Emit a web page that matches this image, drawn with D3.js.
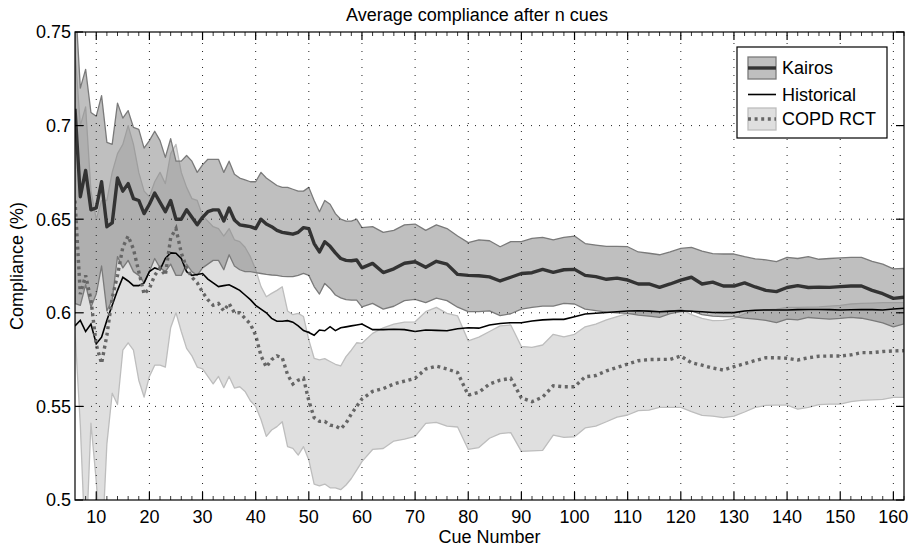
<!DOCTYPE html>
<html>
<head>
<meta charset="utf-8">
<script src="https://cdn.jsdelivr.net/npm/d3@7"></script>
<style>
  html, body { margin: 0; padding: 0; background: #fff; }
  svg { display: block; font-family: "Liberation Sans", Arial, Helvetica, sans-serif; }
</style>
</head>
<body>
<div id="chart"></div>
<script>
/* ---------- Data ---------- */
const cues = [6,7,8,9,10,11,12,13,14,15,16,17,18,19,20,21,22,23,24,25,26,27,28,29,30,31,32,33,34,35,
  36,37,38,39,40,41,42,43,44,45,46,47,48,49,50,51,52,53,54,55,56,57,58,59,60,
  62,64,66,68,70,72,74,76,78,80,82,84,86,88,90,92,94,96,98,100,
  102,104,106,108,110,112,114,116,118,120,122,124,126,128,130,132,134,136,138,140,
  142,144,146,148,150,152,154,156,158,160,162];

const kairosHigh = [0.77,0.720,0.730,0.707,0.705,0.716,0.691,0.690,0.712,0.704,
  0.708,0.699,0.698,0.688,0.692,0.697,0.692,0.683,0.693,0.681,
  0.681,0.684,0.681,0.675,0.679,0.682,0.682,0.682,0.675,0.681,
  0.674,0.672,0.671,0.670,0.670,0.675,0.672,0.670,0.668,0.667,
  0.667,0.666,0.665,0.665,0.667,0.660,0.654,0.660,0.658,0.653,
  0.650,0.649,0.649,0.650,0.6455,
  0.646,0.643,0.644,0.647,0.6474,0.644,0.647,0.645,0.641,0.6375,
  0.639,0.6385,0.6353,0.638,0.638,0.6398,0.6403,0.639,0.6403,0.641,
  0.637,0.6362,0.6355,0.6355,0.6353,0.6325,0.6318,0.631,0.6325,0.6344,
  0.635,0.633,0.6316,0.6314,0.6314,0.630,0.6288,0.6283,0.6273,0.6296,
  0.629,0.630,0.6286,0.629,0.6293,0.6296,0.6296,0.6275,0.626,0.6235,
  0.6237];

const kairosMean = [0.709,0.662,0.676,0.655,0.656,0.670,0.646,0.648,0.672,0.665,
  0.669,0.661,0.660,0.653,0.658,0.664,0.659,0.654,0.660,0.650,
  0.650,0.655,0.651,0.647,0.651,0.654,0.655,0.655,0.649,0.656,
  0.6496,0.647,0.6465,0.646,0.645,0.650,0.6474,0.646,0.644,0.643,
  0.6425,0.642,0.643,0.6455,0.645,0.637,0.6325,0.638,0.6355,0.632,
  0.629,0.628,0.6278,0.6282,0.624,
  0.6264,0.6215,0.6235,0.6265,0.6273,0.6243,0.6275,0.626,0.6205,0.620,
  0.6198,0.6192,0.617,0.619,0.621,0.6214,0.6232,0.6216,0.623,0.6232,
  0.620,0.6193,0.6179,0.6185,0.6175,0.6154,0.6154,0.6136,0.6154,0.6175,
  0.619,0.6154,0.6164,0.6143,0.6143,0.616,0.6138,0.612,0.6113,0.6135,
  0.6145,0.6135,0.6137,0.6136,0.614,0.6143,0.6143,0.612,0.6102,0.6077,
  0.6083];

const kairosLow = [0.605,0.604,0.615,0.603,0.610,0.625,0.601,0.607,0.630,0.624,
  0.628,0.622,0.620,0.616,0.622,0.629,0.624,0.622,0.626,0.620,
  0.620,0.626,0.622,0.620,0.624,0.626,0.628,0.628,0.623,0.631,
  0.625,0.623,0.622,0.622,0.6215,0.621,0.6205,0.6202,0.620,0.6195,
  0.6193,0.6193,0.620,0.621,0.620,0.614,0.610,0.6157,0.613,0.6095,
  0.608,0.607,0.6068,0.6068,0.6032,
  0.605,0.602,0.6035,0.6065,0.6072,0.6054,0.6078,0.6065,0.603,0.6006,
  0.6006,0.601,0.5985,0.5995,0.602,0.6029,0.6036,0.6036,0.605,0.6047,
  0.602,0.6012,0.6004,0.600,0.5997,0.5988,0.5982,0.5976,0.5995,0.6006,
  0.601,0.599,0.5982,0.598,0.598,0.5972,0.5966,0.596,0.5948,0.5966,
  0.5962,0.5975,0.597,0.5966,0.597,0.5976,0.5971,0.596,0.5946,0.5925,
  0.5941];

const historical = [0.593,0.596,0.590,0.594,0.5835,0.587,0.596,0.604,0.612,0.619,
  0.617,0.6145,0.6145,0.616,0.622,0.624,0.623,0.629,0.632,0.6318,
  0.629,0.622,0.620,0.6205,0.621,0.618,0.616,0.614,0.6145,0.615,
  0.6135,0.612,0.6095,0.607,0.604,0.602,0.600,0.597,0.5955,0.5955,
  0.5958,0.595,0.593,0.5905,0.5895,0.588,0.5908,0.5904,0.5926,0.5905,
  0.592,0.5925,0.593,0.5935,0.594,
  0.591,0.591,0.5912,0.591,0.590,0.5908,0.5906,0.5904,0.5915,0.592,
  0.5918,0.5935,0.5943,0.5947,0.5947,0.5956,0.5962,0.5965,0.5965,0.5979,
  0.5994,0.5998,0.6002,0.6006,0.601,0.6011,0.6009,0.6006,0.6009,0.6011,
  0.6008,0.6006,0.6002,0.6001,0.6001,0.601,0.6014,0.6015,0.6015,0.6015,
  0.6017,0.6018,0.6018,0.6017,0.6015,0.6016,0.6018,0.6017,0.6015,0.602,
  0.6024];

const copdHigh = [0.74,0.700,0.710,0.665,0.650,0.660,0.660,0.675,0.685,0.690,
  0.700,0.690,0.675,0.665,0.662,0.670,0.675,0.669,0.685,0.690,
  0.675,0.667,0.661,0.660,0.652,0.649,0.646,0.645,0.641,0.645,
  0.639,0.638,0.635,0.630,0.623,0.614,0.6086,0.6104,0.612,0.6139,
  0.601,0.599,0.5997,0.598,0.5855,0.5757,0.5748,0.5755,0.574,0.5725,
  0.5716,0.5766,0.580,0.584,0.5837,
  0.589,0.592,0.594,0.595,0.5952,0.6006,0.6029,0.5997,0.5983,0.585,
  0.587,0.590,0.593,0.5935,0.582,0.5815,0.5828,0.5885,0.5872,0.5885,
  0.5925,0.594,0.5962,0.598,0.5995,0.600,0.600,0.600,0.6005,0.602,
  0.599,0.597,0.5958,0.596,0.597,0.5995,0.601,0.6015,0.602,0.6029,
  0.6029,0.603,0.6032,0.6036,0.604,0.6047,0.605,0.6052,0.6054,0.6054,
  0.6054];

const copdMean = [0.660,0.610,0.620,0.607,0.583,0.573,0.588,0.608,0.620,0.635,
  0.641,0.634,0.622,0.610,0.613,0.620,0.624,0.620,0.640,0.645,
  0.632,0.624,0.619,0.616,0.611,0.607,0.604,0.605,0.601,0.605,
  0.600,0.600,0.597,0.594,0.588,0.577,0.571,0.575,0.577,0.576,
  0.567,0.562,0.564,0.565,0.553,0.544,0.542,0.542,0.540,0.5395,
  0.538,0.541,0.546,0.550,0.554,
  0.558,0.5595,0.562,0.5635,0.565,0.570,0.5715,0.570,0.568,0.556,
  0.5575,0.562,0.564,0.565,0.5545,0.5525,0.555,0.561,0.5605,0.5605,
  0.5658,0.5665,0.569,0.5708,0.5726,0.5744,0.575,0.5751,0.5751,0.5769,
  0.5733,0.572,0.5705,0.5694,0.5712,0.5728,0.5745,0.576,0.576,0.5757,
  0.5748,0.576,0.5768,0.5769,0.5769,0.5775,0.5787,0.5787,0.5793,0.5796,
  0.5798];

const copdLow = [0.59,0.54,0.47,0.541,0.51,0.47,0.53,0.557,0.551,0.580,
  0.584,0.580,0.564,0.555,0.566,0.572,0.572,0.571,0.592,0.600,
  0.590,0.581,0.577,0.571,0.570,0.566,0.562,0.566,0.560,0.566,
  0.5598,0.5605,0.558,0.553,0.550,0.543,0.534,0.5374,0.5392,0.5418,
  0.5285,0.5276,0.524,0.5285,0.5214,0.5085,0.5075,0.5085,0.5065,0.5065,
  0.5055,0.508,0.5115,0.516,0.5205,
  0.527,0.5275,0.5315,0.5325,0.534,0.5409,0.5415,0.5395,0.539,0.527,
  0.528,0.533,0.5355,0.536,0.526,0.5262,0.5265,0.5347,0.5335,0.5338,
  0.5385,0.5395,0.5418,0.5443,0.5454,0.5477,0.548,0.5495,0.5495,0.5495,
  0.5472,0.5452,0.5448,0.544,0.5448,0.547,0.5495,0.5505,0.5507,0.5507,
  0.5485,0.5495,0.551,0.5512,0.5512,0.5525,0.5532,0.5535,0.5537,0.5548,
  0.5548];

const xTicks = [10,20,30,40,50,60,70,80,90,100,110,120,130,140,150,160];
const xMinorTicks = [8,12,14,16,18,22,24,26,28,32,34,36,38,42,44,46,48,52,54,56,58,62,64,66,68,
  72,74,76,78,82,84,86,88,92,94,96,98,102,104,106,108,112,114,116,118,122,124,126,128,
  132,134,136,138,142,144,146,148,152,154,156,158,162];
const yTicks = [0.5,0.55,0.6,0.65,0.7,0.75];
const legendLabels = ['Kairos', 'Historical', 'COPD RCT'];

/* ---------- Layout ---------- */
const W = 915, H = 548;
const M = { left: 75, top: 32, right: 11, bottom: 48 };
const FONT = 18;

const x = d3.scaleLinear().domain([6, 162]).range([M.left, W - M.right]);
const y = d3.scaleLinear().domain([0.5, 0.75]).range([H - M.bottom, M.top]);

const svg = d3.select('#chart').append('svg')
  .attr('width', W).attr('height', H);

svg.append('defs').append('clipPath').attr('id', 'plot-clip')
  .append('rect')
  .attr('x', x.range()[0]).attr('y', y.range()[1])
  .attr('width', x.range()[1] - x.range()[0])
  .attr('height', y.range()[0] - y.range()[1]);

const rows = cues.map((c, i) => ({
  c,
  kh: kairosHigh[i], km: kairosMean[i], kl: kairosLow[i],
  h: historical[i],
  ch: copdHigh[i], cm: copdMean[i], cl: copdLow[i]
}));

const plot = svg.append('g').attr('clip-path', 'url(#plot-clip)');

// Bands
const band = (lo, hi) => d3.area().x(d => x(d.c)).y0(d => y(d[lo])).y1(d => y(d[hi]));

plot.append('path').datum(rows)
  .attr('d', band('cl', 'ch'))
  .attr('fill', '#bfbfbf').attr('fill-opacity', 0.5)
  .attr('stroke', '#bdbdbd').attr('stroke-width', 1.3).attr('stroke-linejoin', 'round');

plot.append('path').datum(rows)
  .attr('d', band('kl', 'kh'))
  .attr('fill', '#7f7f7f').attr('fill-opacity', 0.5)
  .attr('stroke', '#7a7a7a').attr('stroke-width', 1.3).attr('stroke-linejoin', 'round');

// Grid (dotted)
const grid = svg.append('g').attr('stroke', '#222').attr('stroke-width', 1)
  .attr('stroke-dasharray', '1,7').attr('fill', 'none');
grid.selectAll('line.vx').data(xTicks).join('line')
  .attr('x1', d => x(d)).attr('x2', d => x(d))
  .attr('y1', y.range()[0]).attr('y2', y.range()[1]);
grid.selectAll('line.hy').data(yTicks.slice(1, -1)).join('line')
  .attr('class', 'hy')
  .attr('y1', d => y(d)).attr('y2', d => y(d))
  .attr('x1', x.range()[0]).attr('x2', x.range()[1]);

// Lines
const line = key => d3.line().x(d => x(d.c)).y(d => y(d[key]));

plot.append('path').datum(rows)
  .attr('d', line('h'))
  .attr('fill', 'none').attr('stroke', '#000').attr('stroke-width', 1.6);

plot.append('path').datum(rows)
  .attr('d', line('cm'))
  .attr('fill', 'none').attr('stroke', '#666').attr('stroke-width', 3.4)
  .attr('stroke-dasharray', '3,3.6');

plot.append('path').datum(rows)
  .attr('d', line('km'))
  .attr('fill', 'none').attr('stroke', '#333').attr('stroke-width', 3.4)
  .attr('stroke-linejoin', 'round');

/* ---------- Axes box + ticks ---------- */
const [x0, x1] = x.range();
const [yb, yt] = y.range();
const axis = svg.append('g').attr('stroke', '#000').attr('stroke-width', 1.2);

axis.append('rect').attr('x', x0).attr('y', yt)
  .attr('width', x1 - x0).attr('height', yb - yt).attr('fill', 'none');

const tickLen = 8, minorLen = 4;
xTicks.forEach(t => {
  axis.append('line').attr('x1', x(t)).attr('x2', x(t)).attr('y1', yb).attr('y2', yb - tickLen);
  axis.append('line').attr('x1', x(t)).attr('x2', x(t)).attr('y1', yt).attr('y2', yt + tickLen);
});
xMinorTicks.forEach(t => {
  axis.append('line').attr('stroke-width', 0.8).attr('x1', x(t)).attr('x2', x(t)).attr('y1', yb).attr('y2', yb - minorLen);
  axis.append('line').attr('stroke-width', 0.8).attr('x1', x(t)).attr('x2', x(t)).attr('y1', yt).attr('y2', yt + minorLen);
});
yTicks.forEach(t => {
  axis.append('line').attr('y1', y(t)).attr('y2', y(t)).attr('x1', x0).attr('x2', x0 + tickLen);
  axis.append('line').attr('y1', y(t)).attr('y2', y(t)).attr('x1', x1).attr('x2', x1 - tickLen);
});

// Tick labels
svg.append('g').selectAll('text').data(xTicks).join('text')
  .attr('x', d => x(d)).attr('y', yb + 23)
  .attr('text-anchor', 'middle').attr('font-size', FONT).attr('fill', '#000')
  .text(d => d);

svg.append('g').selectAll('text').data(yTicks).join('text')
  .attr('x', x0 - 4).attr('y', d => y(d)).attr('dy', '0.35em')
  .attr('text-anchor', 'end').attr('font-size', FONT).attr('fill', '#000')
  .text(d => String(+d.toFixed(2)));

// Titles
svg.append('text').attr('x', 477).attr('y', 20.5)
  .attr('text-anchor', 'middle').attr('font-size', FONT)
  .text('Average compliance after n cues');

svg.append('text').attr('x', (x0 + x1) / 2).attr('y', 543)
  .attr('text-anchor', 'middle').attr('font-size', FONT)
  .text('Cue Number');

svg.append('text')
  .attr('transform', `translate(23,${(yb + yt) / 2}) rotate(-90)`)
  .attr('text-anchor', 'middle').attr('font-size', FONT)
  .text('Compliance (%)');

/* ---------- Legend ---------- */
const lg = svg.append('g').attr('transform', 'translate(737,47)');
lg.append('rect').attr('width', 150).attr('height', 91)
  .attr('fill', '#fff').attr('stroke', '#000').attr('stroke-width', 1.2);

const rowY = [21, 47.5, 72];
// Kairos patch
lg.append('rect').attr('x', 11).attr('y', rowY[0] - 11).attr('width', 28).attr('height', 22)
  .attr('fill', '#7f7f7f').attr('fill-opacity', 0.5).attr('stroke', '#7a7a7a').attr('stroke-width', 1.3);
lg.append('line').attr('x1', 11).attr('x2', 39).attr('y1', rowY[0]).attr('y2', rowY[0])
  .attr('stroke', '#333').attr('stroke-width', 3.4);
// Historical
lg.append('line').attr('x1', 11).attr('x2', 39).attr('y1', rowY[1]).attr('y2', rowY[1])
  .attr('stroke', '#000').attr('stroke-width', 1.6);
// COPD patch
lg.append('rect').attr('x', 11).attr('y', rowY[2] - 11).attr('width', 28).attr('height', 22)
  .attr('fill', '#bfbfbf').attr('fill-opacity', 0.5).attr('stroke', '#bdbdbd').attr('stroke-width', 1.3);
lg.append('line').attr('x1', 11).attr('x2', 39).attr('y1', rowY[2]).attr('y2', rowY[2])
  .attr('stroke', '#666').attr('stroke-width', 3.4).attr('stroke-dasharray', '3,3.6');

lg.selectAll('text.lab').data(legendLabels).join('text')
  .attr('class', 'lab')
  .attr('x', 45).attr('y', (d, i) => rowY[i]).attr('dy', '0.36em')
  .attr('font-size', FONT).attr('fill', '#000')
  .text(d => d);
</script>
</body>
</html>
